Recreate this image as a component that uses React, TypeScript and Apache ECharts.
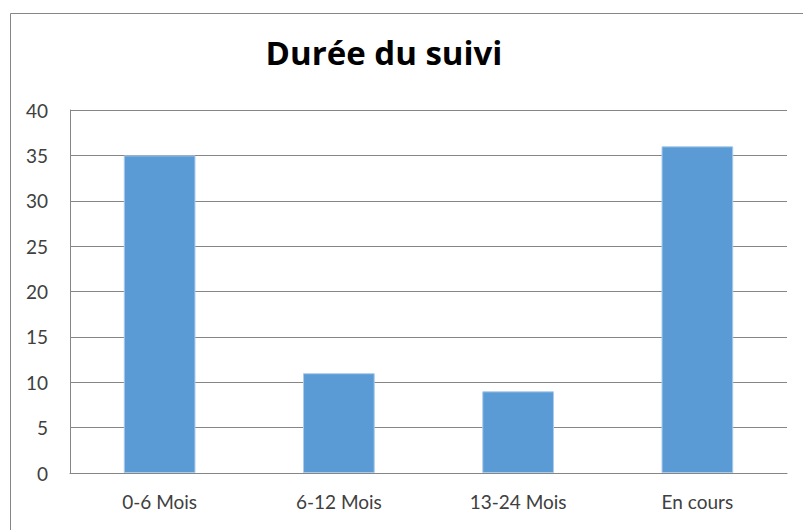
import React, { useEffect, useRef } from "react";
import * as echarts from "echarts";

const categories = ["0-6 Mois", "6-12 Mois", "13-24 Mois", "En cours"];
const values = [35, 11, 9, 36];
const titleText = "Durée du suivi";

export default function App() {
  const ref = useRef<HTMLDivElement>(null);
  useEffect(() => {
    if (!ref.current) return;
    const chart = echarts.init(ref.current, null, { renderer: "svg" });
    const font = "Lato, 'Open Sans', sans-serif";
    chart.setOption({
      animation: false,
      backgroundColor: "#ffffff",
      title: {
        text: titleText,
        left: 379,
        top: 31,
        textAlign: "center",
        textStyle: { fontFamily: "'Open Sans', sans-serif", fontWeight: "bold", fontSize: 33, color: "#000000" },
      },
      graphic: [
        {
          type: "rect",
          shape: { x: 10.5, y: 13.5, width: 820, height: 540 },
          style: { fill: "none", stroke: "#868686", lineWidth: 1 },
          silent: true,
        },
      ],
      grid: { left: 70, top: 110, right: 16, bottom: 57, containLabel: false },
      xAxis: {
        type: "category",
        data: categories,
        axisLine: { show: true, lineStyle: { color: "#868686", width: 1 } },
        axisTick: { show: false },
        axisLabel: { color: "#404040", fontSize: 19, fontFamily: font, margin: 19 },
      },
      yAxis: {
        type: "value",
        min: 0,
        max: 40,
        interval: 5,
        axisLine: { show: true, lineStyle: { color: "#868686", width: 1 } },
        axisTick: { show: false },
        axisLabel: { color: "#404040", fontSize: 19, fontFamily: font, margin: 22 },
        splitLine: { show: true, lineStyle: { color: "#868686", width: 1 } },
      },
      series: [
        {
          type: "bar",
          data: values,
          barWidth: "40%",
          itemStyle: { color: "#5B9BD5", borderColor: "#A9CBEC", borderWidth: 1 },
        },
      ],
    });
    return () => chart.dispose();
  }, []);
  return (
    <div
      ref={ref}
      style={{ position: "absolute", left: 0, top: 0, width: 803, height: 530 }}
    />
  );
}
